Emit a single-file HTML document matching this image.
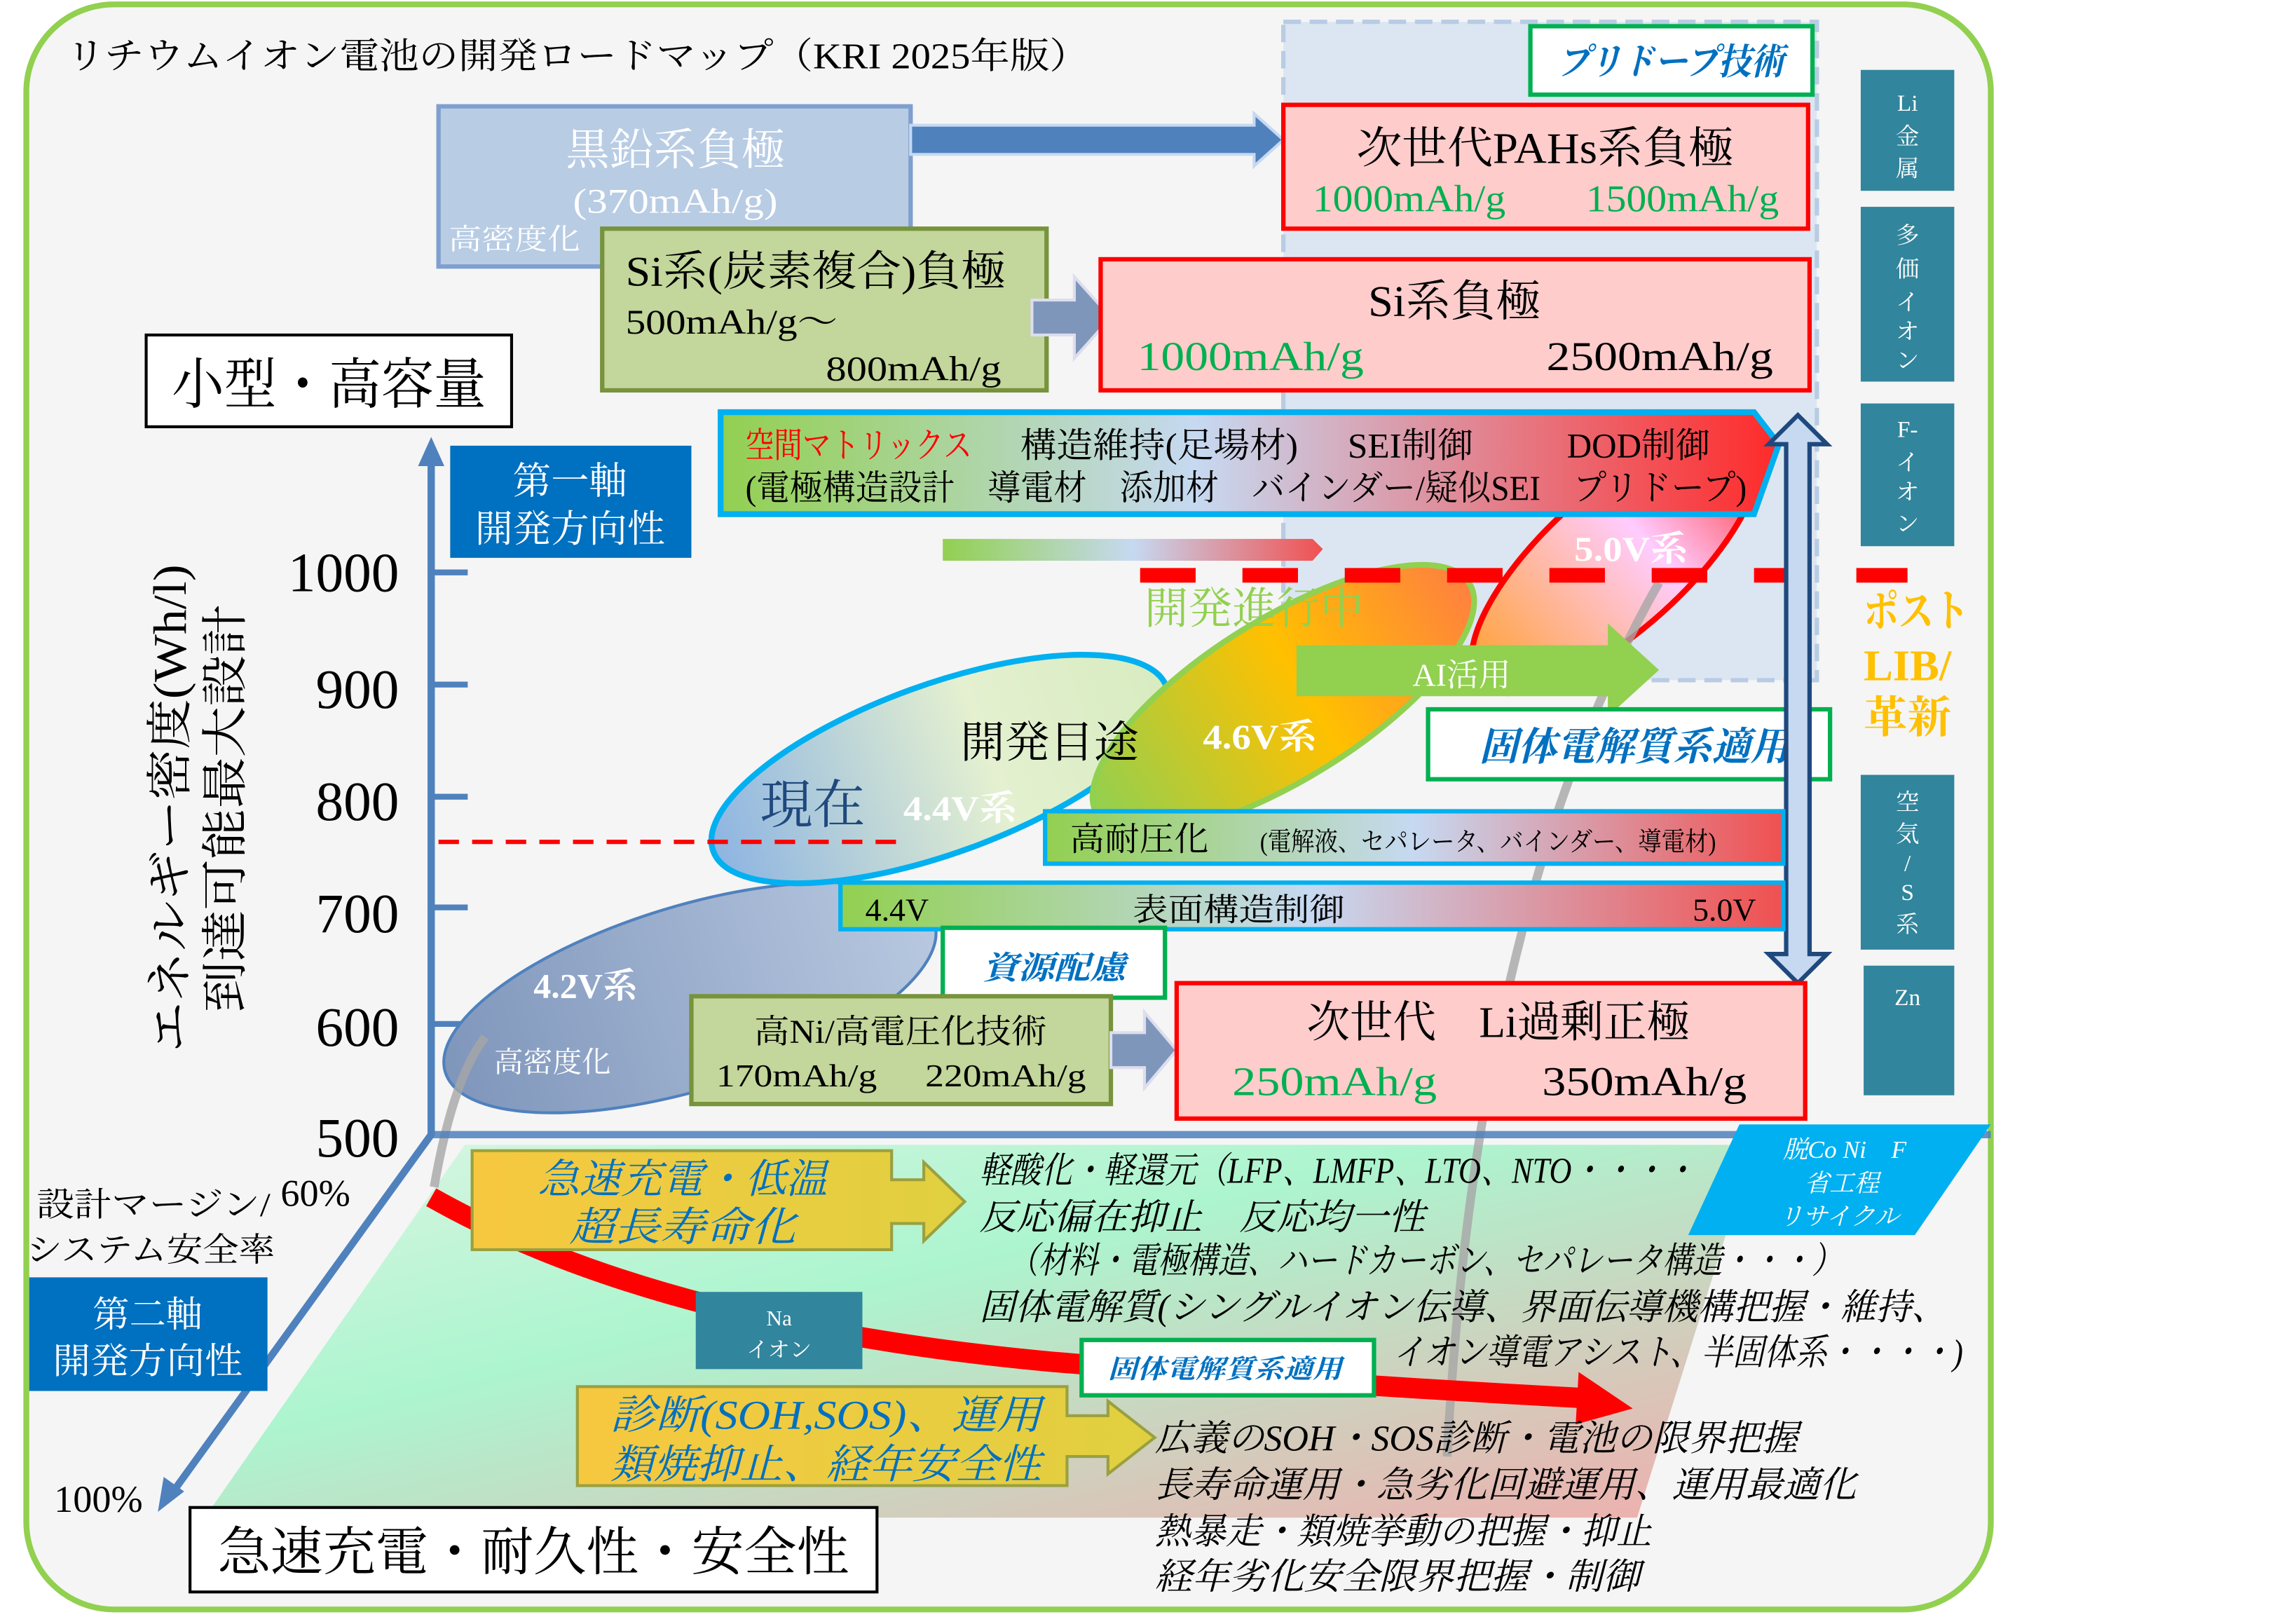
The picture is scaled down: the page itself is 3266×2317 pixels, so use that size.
<!DOCTYPE html>
<html><head><meta charset="utf-8"><style>
html,body{margin:0;padding:0;background:#fff;}
svg{display:block;}
text{font-family:"Liberation Serif","Noto Serif CJK JP",serif;}
.w{fill:#fff}
.it{font-style:italic}
</style></head><body>
<svg width="3266" height="2317" viewBox="0 0 1566 1115" preserveAspectRatio="none" xmlns="http://www.w3.org/2000/svg">
<defs>
<linearGradient id="band" x1="0" x2="1" y1="0" y2="0"><stop offset="0" stop-color="#92d050"/><stop offset="0.45" stop-color="#c6d9f1"/><stop offset="1" stop-color="#ff2a2a"/></linearGradient>
<linearGradient id="band2" x1="0" x2="1" y1="0" y2="0"><stop offset="0" stop-color="#92d050"/><stop offset="0.5" stop-color="#c6d9f1"/><stop offset="1" stop-color="#f05050"/></linearGradient>
<linearGradient id="floor" x1="0" x2="1" y1="0" y2="1"><stop offset="0" stop-color="#d8f5e0"/><stop offset="0.4" stop-color="#9ff5c8"/><stop offset="1" stop-color="#f0a0a0"/></linearGradient>
<linearGradient id="e42" x1="0" x2="1"><stop offset="0" stop-color="#7f96bb"/><stop offset="1" stop-color="#b8c8e0"/></linearGradient>
<linearGradient id="e44" x1="0" x2="1"><stop offset="0" stop-color="#8db4e2"/><stop offset="0.6" stop-color="#e4f0d0"/><stop offset="1" stop-color="#d8ecc0"/></linearGradient>
<linearGradient id="e46" x1="0" x2="1"><stop offset="0" stop-color="#92d050"/><stop offset="0.55" stop-color="#ffc000"/><stop offset="1" stop-color="#ff8040"/></linearGradient>
<linearGradient id="e50" x1="0" x2="1"><stop offset="0" stop-color="#ffa030"/><stop offset="0.6" stop-color="#ffccff"/><stop offset="1" stop-color="#ff3030"/></linearGradient>
<linearGradient id="yel" x1="0" x2="1"><stop offset="0" stop-color="#f6c840"/><stop offset="1" stop-color="#e0d040"/></linearGradient>
</defs>
<rect x="18" y="3" width="1344" height="1102" rx="60" fill="#f5f5f5" stroke="#92d050" stroke-width="4"/>
<text x="45" y="47" font-size="25" textLength="700" lengthAdjust="spacingAndGlyphs">リチウムイオン電池の開発ロードマップ（KRI 2025年版）</text>
<polygon points="318,786 1200,786 1120,1042 140,1042" fill="url(#floor)" opacity="0.85"/>
<rect x="878" y="15" width="365" height="452" fill="#dce6f2" stroke="#b8cce4" stroke-width="3" stroke-dasharray="12,6"/>
<rect x="1047" y="18" width="193" height="47" fill="#fff" stroke="#00b050" stroke-width="3"/>
<text x="1143" y="51" font-size="25" fill="#0070c0" class="it" font-weight="bold" text-anchor="middle" textLength="155" lengthAdjust="spacingAndGlyphs">プリドープ技術</text>
<rect x="300" y="73" width="323" height="110" fill="#b8cce4" stroke="#7f9fce" stroke-width="3"/>
<text x="462" y="113" font-size="30" class="w" text-anchor="middle" textLength="150" lengthAdjust="spacingAndGlyphs">黒鉛系負極</text>
<text x="462" y="146" font-size="24" class="w" text-anchor="middle" textLength="140" lengthAdjust="spacingAndGlyphs">(370mAh/g)</text>
<text x="307" y="171" font-size="20" class="w" textLength="90" lengthAdjust="spacingAndGlyphs">高密度化</text>
<polygon points="623,86 858,86 858,78 878,96 858,114 858,106 623,106" fill="#4f81bd" stroke="#c6d9f1" stroke-width="2"/>
<rect x="878" y="72" width="359" height="85" fill="#ffcccc" stroke="#ff0000" stroke-width="3"/>
<text x="1057" y="112" font-size="30" text-anchor="middle" textLength="258" lengthAdjust="spacingAndGlyphs">次世代PAHs系負極</text>
<text x="898" y="145" font-size="26" fill="#00b050" textLength="132" lengthAdjust="spacingAndGlyphs">1000mAh/g</text>
<text x="1085" y="145" font-size="26" fill="#00b050" textLength="132" lengthAdjust="spacingAndGlyphs">1500mAh/g</text>
<rect x="412" y="157" width="304" height="111" fill="#c3d69b" stroke="#77933c" stroke-width="3"/>
<text x="428" y="196" font-size="29" textLength="260" lengthAdjust="spacingAndGlyphs">Si系(炭素複合)負極</text>
<text x="428" y="229" font-size="24" textLength="145" lengthAdjust="spacingAndGlyphs">500mAh/g～</text>
<text x="565" y="261" font-size="24" textLength="120" lengthAdjust="spacingAndGlyphs">800mAh/g</text>
<polygon points="706,206 735,206 735,190 760,218 735,246 735,230 706,230" fill="#7f96bb" stroke="#dde" stroke-width="2"/>
<rect x="753" y="178" width="485" height="90" fill="#ffcccc" stroke="#ff0000" stroke-width="3"/>
<text x="995" y="217" font-size="30" text-anchor="middle" textLength="118" lengthAdjust="spacingAndGlyphs">Si系負極</text>
<text x="778" y="254" font-size="28" fill="#00b050" textLength="155" lengthAdjust="spacingAndGlyphs">1000mAh/g</text>
<text x="1058" y="254" font-size="28" textLength="155" lengthAdjust="spacingAndGlyphs">2500mAh/g</text>
<rect x="100" y="230" width="250" height="63" fill="#fff" stroke="#000" stroke-width="2"/>
<text x="225" y="277" font-size="38" text-anchor="middle" textLength="215" lengthAdjust="spacingAndGlyphs">小型・高容量</text>
<line x1="295" y1="780" x2="295" y2="318" stroke="#4f81bd" stroke-width="5"/>
<polygon points="286,320 295,300 304,320" fill="#4f81bd"/>
<g stroke="#4f81bd" stroke-width="4"><line x1="295" y1="393" x2="320" y2="393"/><line x1="295" y1="470" x2="320" y2="470"/><line x1="295" y1="547" x2="320" y2="547"/><line x1="295" y1="623" x2="320" y2="623"/><line x1="295" y1="703" x2="320" y2="703"/></g>
<g font-size="38" text-anchor="end"><text x="273" y="406">1000</text><text x="273" y="486">900</text><text x="273" y="563">800</text><text x="273" y="640">700</text><text x="273" y="718">600</text><text x="273" y="794">500</text></g>
<rect x="308" y="306" width="165" height="77" fill="#0070c0"/>
<text x="390" y="339" font-size="26" class="w" text-anchor="middle">第一軸</text>
<text x="390" y="372" font-size="26" class="w" text-anchor="middle" textLength="130" lengthAdjust="spacingAndGlyphs">開発方向性</text>
<text transform="translate(127,555) rotate(-90)" font-size="32" text-anchor="middle" textLength="335" lengthAdjust="spacingAndGlyphs">エネルギー密度(Wh/l)</text>
<text transform="translate(165,555) rotate(-90)" font-size="32" text-anchor="middle" textLength="280" lengthAdjust="spacingAndGlyphs">到達可能最大設計</text>
<ellipse cx="472" cy="685" rx="175" ry="63" transform="rotate(-17 472 685)" fill="url(#e42)" stroke="#4f81bd" stroke-width="2"/>
<text x="365" y="685" font-size="24" class="w" font-weight="bold">4.2V系</text>
<text x="338" y="736" font-size="20" class="w">高密度化</text>
<ellipse cx="643" cy="528" rx="165" ry="58" transform="rotate(-20 643 528)" fill="url(#e44)" stroke="#00b0f0" stroke-width="4"/>
<text x="520" y="565" font-size="36" fill="#1f497d">現在</text>
<text x="618" y="563" font-size="24" class="w" font-weight="bold" textLength="78" lengthAdjust="spacingAndGlyphs">4.4V系</text>
<ellipse cx="878" cy="480" rx="150" ry="55" transform="rotate(-32 878 480)" fill="url(#e46)" stroke="#92d050" stroke-width="4"/>
<text x="657" y="520" font-size="30" textLength="122" lengthAdjust="spacingAndGlyphs">開発目途</text>
<text x="823" y="514" font-size="24" class="w" font-weight="bold" textLength="78" lengthAdjust="spacingAndGlyphs">4.6V系</text>
<ellipse cx="1105" cy="385" rx="125" ry="48" transform="rotate(-42 1105 385)" fill="url(#e50)" stroke="#ff0000" stroke-width="4"/>
<text x="1077" y="385" font-size="24" class="w" font-weight="bold" textLength="78" lengthAdjust="spacingAndGlyphs">5.0V系</text>
<path d="M297,815 Q310,740 332,712" fill="none" stroke="#a6a6a6" stroke-width="6" opacity="0.8"/>
<path d="M990,1000 Q1010,620 1135,400" fill="none" stroke="#a6a6a6" stroke-width="6" opacity="0.8"/>
<polygon points="493,283 1200,283 1217,305 1200,353 493,353" fill="url(#band)" stroke="#00b0f0" stroke-width="4"/>
<text x="510" y="314" font-size="24" fill="#ff0000" textLength="155" lengthAdjust="spacingAndGlyphs">空間マトリックス</text>
<text x="698" y="314" font-size="24" textLength="190" lengthAdjust="spacingAndGlyphs">構造維持(足場材)</text>
<text x="922" y="314" font-size="24" textLength="86" lengthAdjust="spacingAndGlyphs">SEI制御</text>
<text x="1072" y="314" font-size="24" textLength="98" lengthAdjust="spacingAndGlyphs">DOD制御</text>
<text x="510" y="343" font-size="24" textLength="685" lengthAdjust="spacingAndGlyphs">(電極構造設計　導電材　添加材　バインダー/疑似SEI　プリドープ)</text>
<polygon points="645,370 898,370 905,377 898,385 645,385" fill="url(#band2)"/>
<line x1="780" y1="395" x2="1305" y2="395" stroke="#ff0000" stroke-width="10" stroke-dasharray="38,32"/>
<text x="783" y="428" font-size="30" fill="#92d050" textLength="150" lengthAdjust="spacingAndGlyphs">開発進行中</text>
<polygon points="887,443 1100,443 1100,428 1135,460 1100,492 1100,478 887,478" fill="#92d050"/>
<text x="1000" y="471" font-size="22" class="w" text-anchor="middle" font-family="Liberation Sans,Noto Sans CJK JP,sans-serif">AI活用</text>
<rect x="977" y="487" width="275" height="48" fill="#fff" stroke="#00b050" stroke-width="3"/>
<text x="1118" y="522" font-size="27" fill="#0070c0" class="it" font-weight="bold" text-anchor="middle" textLength="212" lengthAdjust="spacingAndGlyphs">固体電解質系適用</text>
<polygon points="1222,305 1210,305 1230,285 1250,305 1238,305 1238,655 1250,655 1230,675 1210,655 1222,655" fill="#c6d9f1" stroke="#1f497d" stroke-width="3"/>
<rect x="715" y="557" width="505" height="36" fill="url(#band2)" stroke="#00b0f0" stroke-width="3"/>
<text x="732" y="584" font-size="23" textLength="95" lengthAdjust="spacingAndGlyphs">高耐圧化</text>
<text x="862" y="584" font-size="18" textLength="312" lengthAdjust="spacingAndGlyphs">(電解液、セパレータ、バインダー、導電材)</text>
<rect x="575" y="606" width="645" height="32" fill="url(#band2)" stroke="#00b0f0" stroke-width="3"/>
<text x="592" y="632" font-size="22">4.4V</text>
<text x="775" y="632" font-size="22" textLength="145" lengthAdjust="spacingAndGlyphs">表面構造制御</text>
<text x="1158" y="632" font-size="22">5.0V</text>
<line x1="300" y1="578" x2="615" y2="578" stroke="#ff0000" stroke-width="3" stroke-dasharray="14,9"/>
<rect x="645" y="637" width="152" height="48" fill="#fff" stroke="#00b050" stroke-width="3"/>
<text x="721" y="672" font-size="22" fill="#0070c0" class="it" font-weight="bold" text-anchor="middle" textLength="98" lengthAdjust="spacingAndGlyphs">資源配慮</text>
<rect x="473" y="684" width="287" height="74" fill="#c3d69b" stroke="#77933c" stroke-width="3"/>
<text x="616" y="716" font-size="23" text-anchor="middle" textLength="200" lengthAdjust="spacingAndGlyphs">高Ni/高電圧化技術</text>
<text x="490" y="746" font-size="22" textLength="110" lengthAdjust="spacingAndGlyphs">170mAh/g</text>
<text x="633" y="746" font-size="22" textLength="110" lengthAdjust="spacingAndGlyphs">220mAh/g</text>
<polygon points="760,709 783,709 783,695 805,721 783,747 783,733 760,733" fill="#7f96bb" stroke="#dde" stroke-width="2"/>
<rect x="805" y="675" width="430" height="93" fill="#ffcccc" stroke="#ff0000" stroke-width="3"/>
<text x="1025" y="712" font-size="30" text-anchor="middle" textLength="262" lengthAdjust="spacingAndGlyphs">次世代　Li過剰正極</text>
<text x="843" y="752" font-size="28" fill="#00b050" textLength="140" lengthAdjust="spacingAndGlyphs">250mAh/g</text>
<text x="1055" y="752" font-size="28" textLength="140" lengthAdjust="spacingAndGlyphs">350mAh/g</text>
<g fill="#31859c"><rect x="1273" y="48" width="64" height="83"/><rect x="1273" y="142" width="64" height="120"/><rect x="1273" y="277" width="64" height="98"/><rect x="1273" y="532" width="64" height="120"/><rect x="1275" y="663" width="62" height="89"/></g>
<g font-size="16" class="w" text-anchor="middle"><text x="1305" y="76">Li</text><text x="1305" y="99">金</text><text x="1305" y="121">属</text>
<text x="1305" y="167">多</text><text x="1305" y="190">価</text><text x="1305" y="213">イ</text><text x="1305" y="233">オ</text><text x="1305" y="253">ン</text>
<text x="1305" y="300">F-</text><text x="1305" y="323">イ</text><text x="1305" y="343">オ</text><text x="1305" y="365">ン</text>
<text x="1305" y="556">空</text><text x="1305" y="578">気</text><text x="1305" y="598">/</text><text x="1305" y="618">S</text><text x="1305" y="640">系</text>
<text x="1305" y="690">Zn</text></g>
<g font-size="30" fill="#ffc000" font-weight="bold"><text x="1275" y="430" textLength="72" lengthAdjust="spacingAndGlyphs">ポスト</text><text x="1275" y="467" textLength="60" lengthAdjust="spacingAndGlyphs">LIB/</text><text x="1275" y="503" textLength="60" lengthAdjust="spacingAndGlyphs">革新</text></g>
<line x1="295" y1="779" x2="1362" y2="779" stroke="#4f81bd" stroke-width="5" opacity="0.85"/>
<line x1="295" y1="779" x2="120" y2="1022" stroke="#4f81bd" stroke-width="5"/>
<polygon points="108,1038 112,1014 126,1024" fill="#4f81bd"/>
<path d="M295,822 Q450,910 720,935 Q900,950 1085,960" fill="none" stroke="#ff0000" stroke-width="14"/>
<polygon points="1080,942 1117,967 1078,978" fill="#ff0000"/>
<text x="192" y="828" font-size="26">60%</text>
<text x="25" y="835" font-size="23" textLength="160" lengthAdjust="spacingAndGlyphs">設計マージン/</text>
<text x="18" y="866" font-size="23" textLength="170" lengthAdjust="spacingAndGlyphs">システム安全率</text>
<rect x="20" y="877" width="163" height="78" fill="#0070c0"/>
<text x="101" y="911" font-size="25" class="w" text-anchor="middle">第二軸</text>
<text x="101" y="943" font-size="25" class="w" text-anchor="middle" textLength="130" lengthAdjust="spacingAndGlyphs">開発方向性</text>
<text x="37" y="1038" font-size="26">100%</text>
<rect x="130" y="1035" width="470" height="58" fill="#fff" stroke="#000" stroke-width="2"/>
<text x="365" y="1078" font-size="36" text-anchor="middle" textLength="432" lengthAdjust="spacingAndGlyphs">急速充電・耐久性・安全性</text>
<polygon points="323,790 610,790 610,810 632,810 632,798 660,825 632,852 632,840 610,840 610,858 323,858" fill="url(#yel)" stroke="#9aa040" stroke-width="2"/>
<text x="467" y="819" font-size="28" fill="#0070c0" class="it" text-anchor="middle" textLength="198" lengthAdjust="spacingAndGlyphs">急速充電・低温</text>
<text x="467" y="852" font-size="28" fill="#0070c0" class="it" text-anchor="middle" textLength="155" lengthAdjust="spacingAndGlyphs">超長寿命化</text>
<polygon points="395,952 730,952 730,972 758,972 758,962 790,987 758,1012 758,1000 730,1000 730,1020 395,1020" fill="url(#yel)" stroke="#9aa040" stroke-width="2"/>
<text x="565" y="981" font-size="28" fill="#0070c0" class="it" text-anchor="middle" textLength="295" lengthAdjust="spacingAndGlyphs">診断(SOH,SOS)、運用</text>
<text x="565" y="1015" font-size="28" fill="#0070c0" class="it" text-anchor="middle" textLength="295" lengthAdjust="spacingAndGlyphs">類焼抑止、経年安全性</text>
<polygon points="1190,772 1362,772 1310,848 1155,848" fill="#00b0f0"/>
<g font-size="17" class="w it" text-anchor="middle"><text x="1262" y="795">脱Co Ni　F</text><text x="1260" y="818">省工程</text><text x="1258" y="841">リサイクル</text></g>
<rect x="476" y="887" width="114" height="53" fill="#31859c"/>
<text x="533" y="910" font-size="15" class="w" text-anchor="middle">Na</text>
<text x="533" y="932" font-size="15" class="w" text-anchor="middle">イオン</text>
<rect x="740" y="920" width="200" height="38" fill="#fff" stroke="#00b050" stroke-width="3"/>
<text x="838" y="946" font-size="18" fill="#0070c0" class="it" font-weight="bold" text-anchor="middle" textLength="160" lengthAdjust="spacingAndGlyphs">固体電解質系適用</text>
<g font-size="25" class="it">
<text x="670" y="812" textLength="490" lengthAdjust="spacingAndGlyphs">軽酸化・軽還元（LFP、LMFP、LTO、NTO・・・・</text>
<text x="670" y="844" textLength="305" lengthAdjust="spacingAndGlyphs">反応偏在抑止　反応均一性</text>
<text x="690" y="874" textLength="570" lengthAdjust="spacingAndGlyphs">（材料・電極構造、ハードカーボン、セパレータ構造・・・）</text>
<text x="670" y="906" textLength="662" lengthAdjust="spacingAndGlyphs">固体電解質(シングルイオン伝導、界面伝導機構把握・維持、</text>
<text x="953" y="937" textLength="390" lengthAdjust="spacingAndGlyphs">イオン導電アシスト、半固体系・・・・)</text>
<text x="790" y="996" textLength="440" lengthAdjust="spacingAndGlyphs">広義のSOH・SOS診断・電池の限界把握</text>
<text x="790" y="1028" textLength="480" lengthAdjust="spacingAndGlyphs">長寿命運用・急劣化回避運用、運用最適化</text>
<text x="790" y="1060" textLength="340" lengthAdjust="spacingAndGlyphs">熱暴走・類焼挙動の把握・抑止</text>
<text x="790" y="1091" textLength="332" lengthAdjust="spacingAndGlyphs">経年劣化安全限界把握・制御</text>
</g>
</svg>
</body></html>
